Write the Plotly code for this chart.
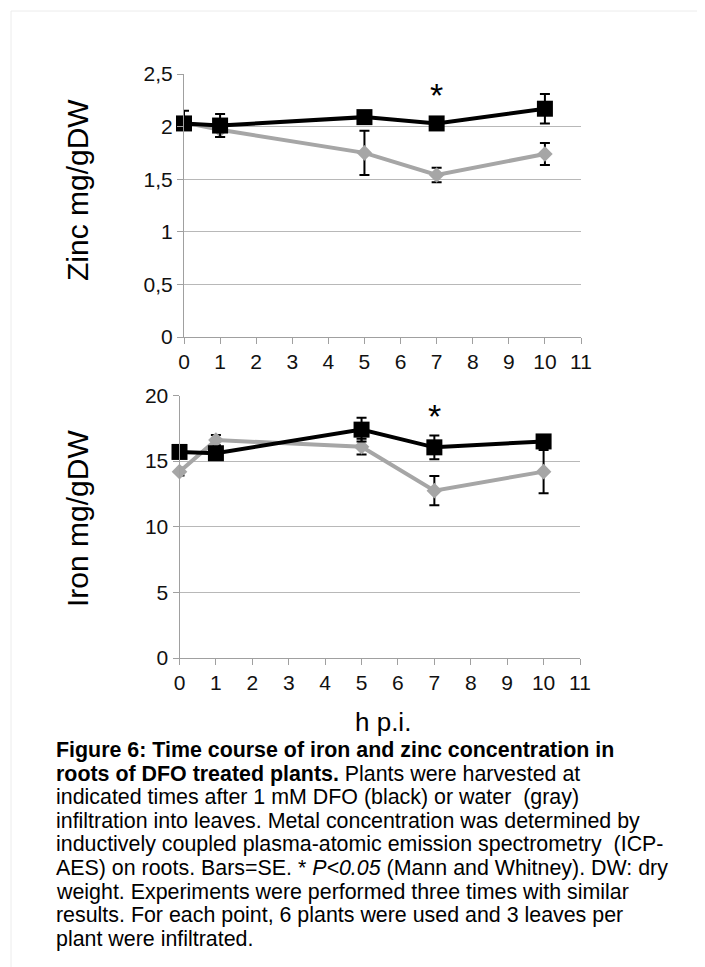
import plotly.graph_objects as go

# ---------------- data ----------------
hours = [0, 1, 5, 7, 10]
x_ticks = list(range(0, 12))

zinc_dfo = [2.03, 2.01, 2.09, 2.03, 2.17]
zinc_dfo_se_plus = [0.12, 0.11, 0.03, 0.03, 0.14]
zinc_dfo_se_minus = [0.04, 0.11, 0.03, 0.03, 0.14]
zinc_water = [2.04, 1.97, 1.75, 1.54, 1.74]
zinc_water_se = [0.05, 0.07, 0.21, 0.07, 0.105]

iron_dfo = [15.7, 15.6, 17.4, 16.05, 16.5]
iron_dfo_se = [0.3, 0.3, 0.9, 0.9, 0.3]
iron_water = [14.2, 16.6, 16.1, 12.75, 14.2]
iron_water_se = [0.3, 0.4, 0.6, 1.12, 1.65]

zinc_star = (7, 2.36)
iron_star = (7, 18.9)

caption_lines = [
    "<b>Figure 6: Time course of iron and zinc concentration in</b>",
    "<b>roots of DFO treated plants.</b> Plants were harvested at",
    "indicated times after 1 mM DFO (black) or water  (gray)",
    "infiltration into leaves. Metal concentration was determined by",
    "inductively coupled plasma-atomic emission spectrometry  (ICP-",
    "AES) on roots. Bars=SE. * <i>P&lt;0.05</i> (Mann and Whitney). DW: dry",
    "weight. Experiments were performed three times with similar",
    "results. For each point, 6 plants were used and 3 leaves per",
    "plant were infiltrated.",
]

# ---------------- styling ----------------
W, H = 705, 967
OFF = 8  # page body margin offset
FONT = "Liberation Sans, Arial, sans-serif"
GRAY = "#a6a6a6"
GRID = "#b8b8b8"
AXIS = "#a0a0a0"


def px_x(p):
    return (p - OFF) / W


def px_y(p):
    return 1 - (p - OFF) / H


fig = go.Figure()


def add_series(x, y, se_plus, se_minus, color, symbol, size, xa, ya, name):
    fig.add_trace(go.Scatter(
        x=x, y=y, mode="lines+markers", name=name,
        xaxis=xa, yaxis=ya, cliponaxis=False,
        line=dict(color=color, width=4),
        marker=dict(symbol=symbol, size=size, color=color, line=dict(width=0)),
        error_y=dict(type="data", array=se_plus, arrayminus=se_minus,
                     symmetric=False, visible=True, color="#000000",
                     thickness=2, width=5),
        showlegend=False,
    ))


add_series(hours, zinc_water, zinc_water_se, zinc_water_se, GRAY, "diamond", 12, "x", "y", "water")
add_series(hours, zinc_dfo, zinc_dfo_se_plus, zinc_dfo_se_minus, "#000000", "square", 16, "x", "y", "DFO")
add_series(hours, iron_water, iron_water_se, iron_water_se, GRAY, "diamond", 12, "x2", "y2", "water")
add_series(hours, iron_dfo, iron_dfo_se, iron_dfo_se, "#000000", "square", 16, "x2", "y2", "DFO")

common_x = dict(range=[0, 11], tickmode="array", tickvals=x_ticks,
                showgrid=False, zeroline=False, showline=True, linecolor=AXIS,
                linewidth=1, ticks="outside", ticklen=6, tickcolor=AXIS,
                automargin=False,
                tickfont=dict(family=FONT, size=21, color="#111"))
common_y = dict(showgrid=True, gridcolor=GRID, gridwidth=1, zeroline=False,
                showline=True, linecolor=AXIS, linewidth=1, ticks="outside",
                ticklen=6, tickcolor=AXIS, automargin=False,
                tickfont=dict(family=FONT, size=21, color="#111"))

fig.update_layout(
    width=W, height=H, autosize=False,
    margin=dict(l=0, r=0, t=0, b=0, pad=0, autoexpand=False),
    paper_bgcolor="white", plot_bgcolor="white",
    separators=",.",
    xaxis=dict(domain=[px_x(184), px_x(581)], anchor="y", **common_x),
    yaxis=dict(domain=[px_y(337), px_y(74)], anchor="x", range=[0, 2.5],
               dtick=0.5, tick0=0, **common_y),
    xaxis2=dict(domain=[px_x(179.5), px_x(580)], anchor="y2", **common_x),
    yaxis2=dict(domain=[px_y(658), px_y(395.5)], anchor="x2", range=[0, 20],
                dtick=5, tick0=0, **common_y),
)

annotations = [
    dict(text="Zinc mg/gDW", x=px_x(77), y=px_y(190), xref="paper", yref="paper",
         textangle=-90, showarrow=False, xanchor="center", yanchor="middle",
         font=dict(family=FONT, size=30, color="#000")),
    dict(text="Iron mg/gDW", x=px_x(77), y=px_y(519), xref="paper", yref="paper",
         textangle=-90, showarrow=False, xanchor="center", yanchor="middle",
         font=dict(family=FONT, size=30, color="#000")),
    dict(text="h p.i.", x=px_x(383), y=px_y(722), xref="paper", yref="paper",
         showarrow=False, xanchor="center", yanchor="middle",
         font=dict(family=FONT, size=26, color="#000")),
    dict(text="*", x=zinc_star[0], y=zinc_star[1], xref="x", yref="y",
         showarrow=False, xanchor="center", yanchor="middle", yshift=-6,
         font=dict(family=FONT, size=34, color="#000")),
    dict(text="*", x=iron_star[0], y=iron_star[1], xref="x2", yref="y2",
         showarrow=False, xanchor="center", yanchor="middle", yshift=-6,
         font=dict(family=FONT, size=34, color="#000")),
]

for i, line in enumerate(caption_lines):
    annotations.append(dict(
        text=line, x=px_x(54), y=px_y(750 + 23.6 * i), xref="paper", yref="paper",
        showarrow=False, xanchor="left", yanchor="middle", align="left",
        font=dict(family=FONT, size=21.4, color="#000"),
    ))

fig.update_layout(annotations=annotations)

# faint outer frame
fig.add_shape(type="rect", xref="paper", yref="paper",
              x0=px_x(11), y0=-0.02, x1=1.02, y1=px_y(11),
              line=dict(color="#ececec", width=1), fillcolor="rgba(0,0,0,0)",
              layer="below")

fig.write_html("out.html")
